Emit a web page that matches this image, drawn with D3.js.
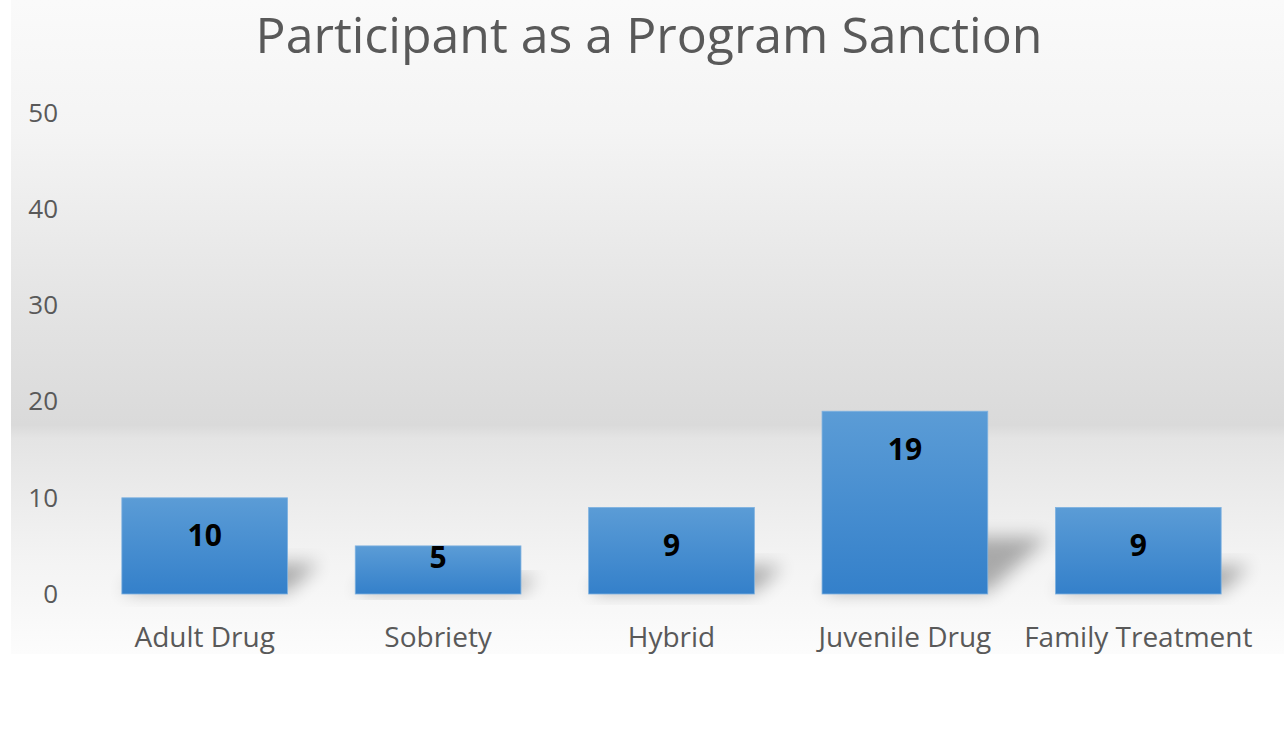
<!DOCTYPE html>
<html>
<head>
<meta charset="utf-8">
<script src="https://cdn.jsdelivr.net/npm/d3@7"></script>
<style>
  html, body { margin: 0; padding: 0; background: #fff; }
  svg { display: block; }
</style>
</head>
<body>
<div id="chart"></div>
<script>
// data
const categories = ["Adult Drug", "Sobriety", "Hybrid", "Juvenile Drug", "Family Treatment"];
const values = [10, 5, 9, 19, 9];
const yTicks = [0, 10, 20, 30, 40, 50];
const chartTitle = "Participant as a Program Sanction";

const width = 1284, height = 729;
const font = "'Open Sans', 'Segoe UI', sans-serif";

const svg = d3.select("#chart").append("svg")
    .attr("width", width)
    .attr("height", height);

const defs = svg.append("defs");

// panel background: light at top, gray band near 20, light at bottom
const bg = defs.append("linearGradient")
    .attr("id", "bg-grad")
    .attr("x1", 0).attr("y1", 0).attr("x2", 0).attr("y2", 1);
bg.append("stop").attr("offset", "0%").attr("stop-color", "#fafafa");
bg.append("stop").attr("offset", "20%").attr("stop-color", "#f4f4f4");
bg.append("stop").attr("offset", "50%").attr("stop-color", "#e2e2e2");
bg.append("stop").attr("offset", "65%").attr("stop-color", "#dadada");
bg.append("stop").attr("offset", "67%").attr("stop-color", "#e4e4e4");
bg.append("stop").attr("offset", "85%").attr("stop-color", "#f3f3f3");
bg.append("stop").attr("offset", "100%").attr("stop-color", "#fcfcfc");

const barGrad = defs.append("linearGradient")
    .attr("id", "bar-grad")
    .attr("x1", 0).attr("y1", 0).attr("x2", 0).attr("y2", 1);
barGrad.append("stop").attr("offset", "0%").attr("stop-color", "#5b9cd6");
barGrad.append("stop").attr("offset", "100%").attr("stop-color", "#3480ca");

defs.append("filter")
    .attr("id", "shadow-blur")
    .attr("x", "-50%").attr("y", "-50%").attr("width", "200%").attr("height", "200%")
    .append("feGaussianBlur")
    .attr("stdDeviation", 9);

svg.append("rect")
    .attr("x", 11).attr("y", 0)
    .attr("width", width - 11).attr("height", 654)
    .attr("fill", "url(#bg-grad)");

// title
svg.append("text")
    .attr("x", 649)
    .attr("y", 53)
    .attr("text-anchor", "middle")
    .attr("fill", "#595959")
    .style("font-family", font)
    .style("font-size", "50px")
    .text(chartTitle);

// scales
const x = d3.scaleBand()
    .domain(categories)
    .range([88, 1255])
    .paddingInner(0.29)
    .paddingOuter(0.145);

const y = d3.scaleLinear()
    .domain([0, 50])
    .range([594, 113]);

// y axis (labels only)
const yAxis = svg.append("g")
    .attr("transform", "translate(58,0)")
    .call(d3.axisLeft(y).tickValues(yTicks).tickSize(0).tickPadding(0));
yAxis.select(".domain").remove();
yAxis.selectAll("text")
    .attr("fill", "#595959")
    .style("font-family", font)
    .style("font-size", "26px");

// x axis (labels only)
const xAxis = svg.append("g")
    .attr("transform", "translate(0,594)")
    .call(d3.axisBottom(x).tickSize(0).tickPadding(33));
xAxis.select(".domain").remove();
xAxis.selectAll("text")
    .attr("fill", "#595959")
    .style("font-family", font)
    .style("font-size", "28px");

const data = categories.map((c, i) => ({ category: c, value: values[i] }));

// perspective shadows behind bars
svg.append("g").selectAll("path")
    .data(data)
    .join("path")
    .attr("filter", "url(#shadow-blur)")
    .attr("fill", "#000")
    .attr("opacity", 0.3)
    .attr("d", d => {
        const x0 = x(d.category), x1 = x0 + x.bandwidth();
        const b = y(0) - 2, hs = (y(0) - y(d.value)) * 0.3;
        const k = 1.1;
        return `M${x0},${b}L${x1},${b}L${x1 + k * hs},${b - hs}L${x0 + k * hs},${b - hs}Z`;
    });

// bars
svg.append("g").selectAll("rect")
    .data(data)
    .join("rect")
    .attr("x", d => x(d.category))
    .attr("y", d => y(d.value))
    .attr("width", x.bandwidth())
    .attr("height", d => y(0) - y(d.value))
    .attr("fill", "url(#bar-grad)")
    .attr("stroke", "#7fb2e0")
    .attr("stroke-width", 0.8);

// value labels
svg.append("g").selectAll("text")
    .data(data)
    .join("text")
    .attr("x", d => x(d.category) + x.bandwidth() / 2)
    .attr("y", d => Math.min(y(d.value) + 38, y(0) - 37))
    .attr("dy", "0.35em")
    .attr("text-anchor", "middle")
    .attr("fill", "#000")
    .style("font-family", font)
    .style("font-weight", "bold")
    .style("font-size", "30px")
    .text(d => d.value);
</script>
</body>
</html>
